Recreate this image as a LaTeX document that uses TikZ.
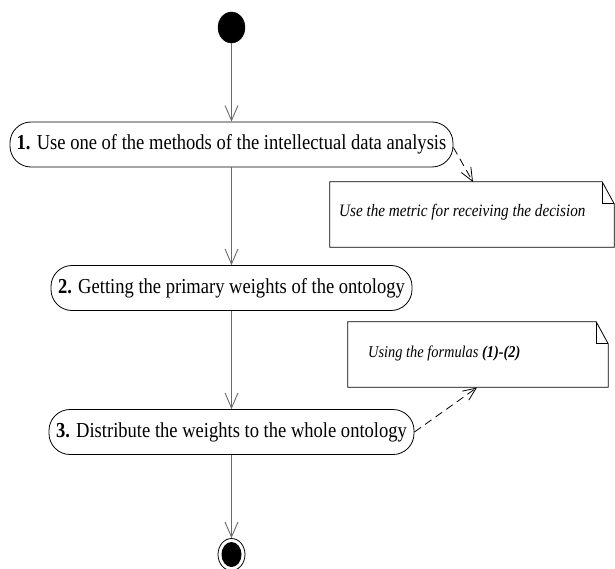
\documentclass[tikz,border=0pt]{standalone}
\usepackage{fontspec}
\setmainfont[FakeStretch=0.87]{Liberation Serif}
\usetikzlibrary{arrows.meta,shapes.geometric}
\definecolor{linegray}{RGB}{105,105,105}
\begin{document}
\begin{tikzpicture}[x=1bp,y=-1bp,
  act/.style={draw=black, line width=0.8bp, rounded corners=21bp, minimum height=45bp, inner sep=0pt, font=\fontsize{21.4}{23}\selectfont},
  flow/.style={draw=linegray, line width=1bp, -{Straight Barb[length=15bp,width=13bp,line width=0.9bp]}},
  dep/.style={draw=black, line width=0.8bp, dash pattern=on 8bp off 5bp, -{Straight Barb[length=13bp,width=11bp,line width=0.8bp]}},
  notebox/.style={draw=none, inner sep=0pt},
  notetxt/.style={anchor=west, inner sep=0pt},
]
\useasboundingbox (0,0) rectangle (615,569);

% start
\node[ellipse, draw=black, fill=black, minimum width=27bp, minimum height=31bp, inner sep=0pt] (start) at (231.5,27.5) {};

% activities
\node[act, minimum width=443bp] (n1) at (231.5,144.5) {\textbf{1.} Use one of the methods of the intellectual data analysis};
\node[act, minimum width=361bp] (n2) at (231.5,288) {\textbf{2.} Getting the primary weights of the ontology};
\node[act, minimum width=365bp] (n3) at (231.5,432) {\textbf{3.} Distribute the weights to the whole ontology};

% end
\node[ellipse, draw=black, line width=0.8bp, minimum width=27bp, minimum height=32bp, inner sep=0pt] (end) at (231.5,554.5) {};
\node[ellipse, fill=black, minimum width=20bp, minimum height=25bp, inner sep=0pt] (endin) at (end.center) {};

% notes
\node[notebox, minimum width=284bp, minimum height=65bp] (note1) at (472,214.5) {};
\draw[line width=0.8bp] (note1.south west) -- (note1.north west) -- ([xshift=-12bp]note1.north east) -- ([yshift=-22bp]note1.north east) -- (note1.south east) -- cycle;
\draw[line width=0.8bp] ([xshift=-12bp]note1.north east) -- ([xshift=-12bp,yshift=-22bp]note1.north east) -- ([yshift=-22bp]note1.north east);
\node[notetxt, font=\itshape\fontsize{17.5}{19}\selectfont] (txt1) at (339,212) {Use the metric for receiving the decision};

\node[notebox, minimum width=260bp, minimum height=65bp] (note2) at (478,354.5) {};
\draw[line width=0.8bp] (note2.south west) -- (note2.north west) -- ([xshift=-12bp]note2.north east) -- ([yshift=-22bp]note2.north east) -- (note2.south east) -- cycle;
\draw[line width=0.8bp] ([xshift=-12bp]note2.north east) -- ([xshift=-12bp,yshift=-22bp]note2.north east) -- ([yshift=-22bp]note2.north east);
\node[notetxt, font=\itshape\fontsize{16.6}{18}\selectfont] (txt2) at (368,353) {Using the formulas \textbf{(1)-(2)}};

% flow connectors
\draw[flow] (start) -- (n1);
\draw[flow] (n1) -- (n2);
\draw[flow] (n2) -- (n3);
\draw[flow] (n3) -- (end);

% dependencies
\coordinate (d1) at (473,182);
\coordinate (d2) at (477,387.5);
\draw[dep] ([yshift=-3bp]n1.east) -- (d1);
\draw[dep] (n3.east) -- (d2);
\end{tikzpicture}
\end{document}
